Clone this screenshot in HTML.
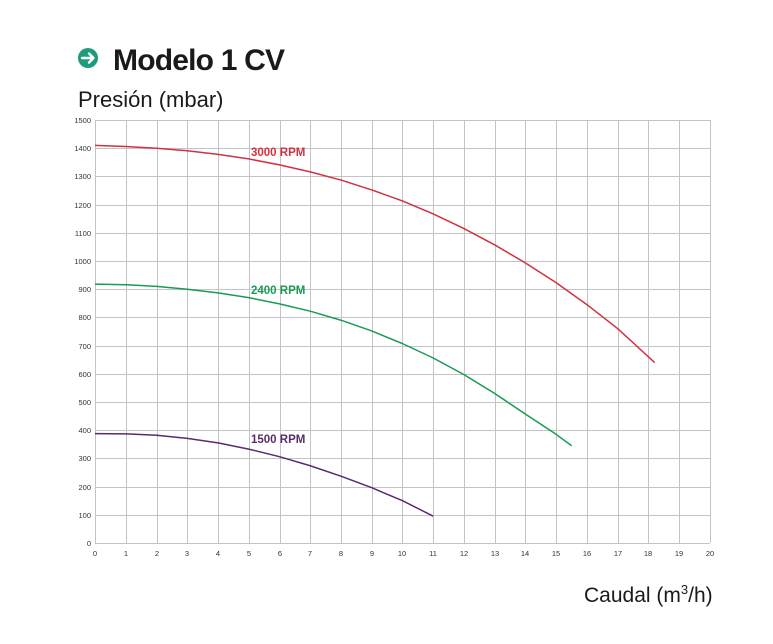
<!DOCTYPE html>
<html><head><meta charset="utf-8"><style>
body{margin:0;background:#fff;width:773px;height:639px;overflow:hidden;font-family:"Liberation Sans",sans-serif}
</style></head><body>
<svg width="773" height="639" xmlns="http://www.w3.org/2000/svg" font-family="Liberation Sans, sans-serif">
<circle cx="88" cy="58" r="10" fill="#1d9b7c"/>
<path d="M82 58h11M89 53.5l4.5 4.5-4.5 4.5" stroke="#fff" stroke-width="2.4" fill="none" stroke-linecap="round" stroke-linejoin="round"/>
<text x="113" y="70" font-size="30" font-weight="bold" fill="#1a1a1a" letter-spacing="-0.8">Modelo 1 CV</text>
<text x="78" y="107" font-size="22" fill="#1a1a1a">Presión (mbar)</text>
<text x="584" y="602" font-size="21" fill="#1a1a1a">Caudal (m<tspan font-size="13" dy="-8">3</tspan><tspan dy="8">/h)</tspan></text>
<g stroke="#c4c4c4" stroke-width="1">
<path d="M95 120.5H710M95 148.5H710M95 176.5H710M95 205.5H710M95 233.5H710M95 261.5H710M95 289.5H710M95 317.5H710M95 346.5H710M95 374.5H710M95 402.5H710M95 430.5H710M95 458.5H710M95 487.5H710M95 515.5H710M95 543.5H710"/>
<path d="M95.5 120V543M126.5 120V543M157.5 120V543M187.5 120V543M218.5 120V543M249.5 120V543M280.5 120V543M310.5 120V543M341.5 120V543M372.5 120V543M402.5 120V543M433.5 120V543M464.5 120V543M495.5 120V543M525.5 120V543M556.5 120V543M587.5 120V543M618.5 120V543M648.5 120V543M679.5 120V543M710.5 120V543"/>
</g>
<g font-size="7.5" fill="#333" text-anchor="end">
<text x="91" y="123">1500</text><text x="91" y="151">1400</text><text x="91" y="179">1300</text><text x="91" y="208">1200</text><text x="91" y="236">1100</text><text x="91" y="264">1000</text><text x="91" y="292">900</text><text x="91" y="320">800</text><text x="91" y="349">700</text><text x="91" y="377">600</text><text x="91" y="405">500</text><text x="91" y="433">400</text><text x="91" y="461">300</text><text x="91" y="490">200</text><text x="91" y="518">100</text><text x="91" y="546">0</text>
</g>
<g font-size="7.5" fill="#333" text-anchor="middle">
<text x="95" y="556">0</text><text x="126" y="556">1</text><text x="157" y="556">2</text><text x="187" y="556">3</text><text x="218" y="556">4</text><text x="249" y="556">5</text><text x="280" y="556">6</text><text x="310" y="556">7</text><text x="341" y="556">8</text><text x="372" y="556">9</text><text x="402" y="556">10</text><text x="433" y="556">11</text><text x="464" y="556">12</text><text x="495" y="556">13</text><text x="525" y="556">14</text><text x="556" y="556">15</text><text x="587" y="556">16</text><text x="618" y="556">17</text><text x="648" y="556">18</text><text x="679" y="556">19</text><text x="710" y="556">20</text>
</g>
<g transform="translate(95,543) scale(30.75,-0.282)" fill="none" stroke-width="1.5" stroke-linejoin="round">
<polyline vector-effect="non-scaling-stroke" stroke="#d0323f" points="0,1410 1,1406 2,1400 3,1391 4,1378 5,1362 6,1341 7,1316 8,1287 9,1252 10,1213 11,1167 12,1115 13,1057 14,993 15,923 16,845 17,760 18.2,640"/>
<polyline vector-effect="non-scaling-stroke" stroke="#1a9a55" points="0,918 1,916 2,910 3,900 4,887 5,870 6,848 7,822 8,790 9,752 10,707 11,656 12,597 13,530 14,457 15,385 15.5,345"/>
<polyline vector-effect="non-scaling-stroke" stroke="#5a2d6a" points="0,388 1,387 2,382 3,371 4,355 5,333 6,306 7,274 8,237 9,196 10,150 11,95"/>
</g>
<g font-size="11.5" font-weight="bold">
<text x="251" y="156" fill="#d0323f">3000 RPM</text>
<text x="251" y="294" fill="#1a9a55">2400 RPM</text>
<text x="251" y="443" fill="#5a2d6a">1500 RPM</text>
</g>
</svg>
</body></html>
